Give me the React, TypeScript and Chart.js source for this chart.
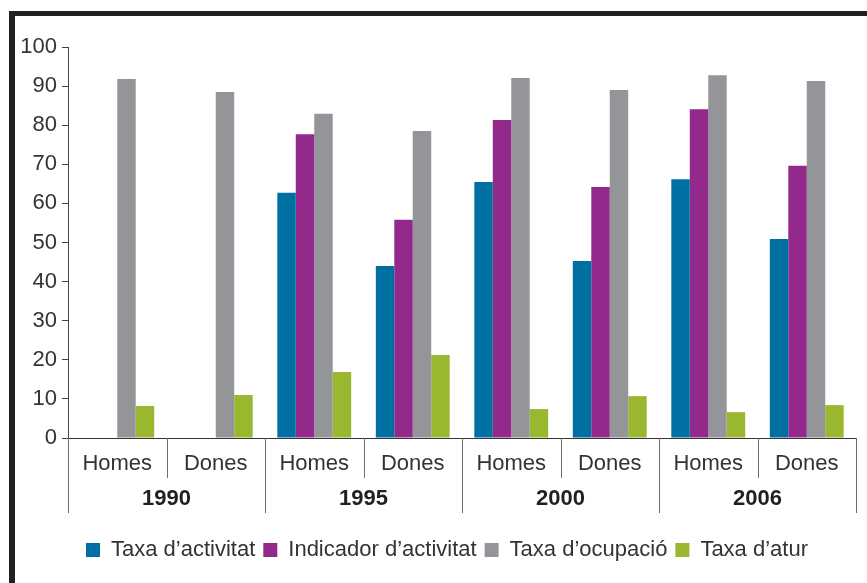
import React, { useEffect, useRef } from "react";
import { Chart, registerables } from "chart.js";

Chart.register(...registerables);

const categories = ["Homes", "Dones", "Homes", "Dones", "Homes", "Dones", "Homes", "Dones"];
const years = ["1990", "1995", "2000", "2006"];
const seriesNames = ["Taxa d’activitat", "Indicador d’activitat", "Taxa d’ocupació", "Taxa d’atur"];
const taxaActivitat = [null, null, 62.7, 44.0, 65.5, 45.3, 66.2, 50.9];
const indicadorActivitat = [null, null, 77.7, 55.8, 81.3, 64.2, 84.1, 69.6];
const taxaOcupacio = [91.8, 88.5, 82.9, 78.5, 92.1, 89.0, 92.8, 91.3];
const taxaAtur = [8.2, 11.0, 16.9, 21.2, 7.4, 10.7, 6.6, 8.4];
const colors = ["#0070a3", "#932a8b", "#949599", "#9ab730"];

const FONT = "'Liberation Sans', Arial, Helvetica, sans-serif";
const TEXT = "#333333";

const groupLabels = {
  id: "groupLabels",
  afterLayout(chart: any) {
    if (chart.legend) {
      chart.legend.left += 9;
      chart.legend.right += 9;
    }
  },
  afterDraw(chart: any) {
    const { ctx, chartArea, scales } = chart;
    const x = scales.x;
    const n = categories.length;
    const catW = (chartArea.right - chartArea.left) / n;
    const y0 = chartArea.bottom;
    ctx.save();
    ctx.strokeStyle = "#333";
    ctx.lineWidth = 1;
    ctx.beginPath();
    ctx.moveTo(chartArea.left, y0 + 0.5);
    ctx.lineTo(chartArea.right, y0 + 0.5);
    ctx.stroke();
    ctx.strokeStyle = "#6d6e71";
    for (let i = 0; i <= n; i++) {
      const px = Math.round(chartArea.left + i * catW) + 0.5;
      const outer = i % 2 === 0;
      ctx.beginPath();
      ctx.moveTo(px, y0);
      ctx.lineTo(px, y0 + (outer ? 75 : 40));
      ctx.stroke();
    }
    ctx.fillStyle = TEXT;
    ctx.textAlign = "center";
    ctx.textBaseline = "middle";
    ctx.font = `22px ${FONT}`;
    categories.forEach((c, i) => {
      ctx.fillText(c, x.getPixelForValue(i), y0 + 26);
    });
    ctx.font = `bold 22px ${FONT}`;
    ctx.fillStyle = "#231f20";
    years.forEach((yr, j) => {
      const cx = chartArea.left + (2 * j + 1) * catW;
      ctx.fillText(yr, cx, y0 + 61);
    });
    ctx.restore();
  },
};

export default function App() {
  const ref = useRef<HTMLCanvasElement>(null);
  useEffect(() => {
    const canvas = ref.current;
    if (!canvas) return;
    const datasets = [taxaActivitat, indicadorActivitat, taxaOcupacio, taxaAtur].map((d, i) => ({
      label: seriesNames[i],
      data: d,
      backgroundColor: colors[i],
      borderWidth: 0,
      categoryPercentage: 0.75,
      barPercentage: 1.0,
    }));
    const chart = new Chart(canvas, {
      type: "bar",
      data: { labels: categories, datasets },
      options: {
        animation: false,
        responsive: false,
        maintainAspectRatio: false,
        layout: { padding: { left: 20, right: 11, top: 47, bottom: 12 } },
        plugins: {
          legend: {
            position: "bottom",
            labels: {
              boxWidth: 14,
              boxHeight: 14,
              padding: 8,
              color: TEXT,
              font: { family: FONT, size: 22 },
            },
          },
          tooltip: { enabled: false },
        },
        scales: {
          x: {
            display: true,
            grid: { display: false, drawTicks: false },
            border: { display: false },
            ticks: { display: false },
            afterFit: (s: any) => {
              s.height = 93;
            },
          },
          y: {
            min: 0,
            max: 100,
            ticks: {
              stepSize: 10,
              padding: 5,
              color: TEXT,
              font: { family: FONT, size: 22 },
            },
            grid: { drawOnChartArea: false, drawTicks: true, tickLength: 6, color: "#444" },
            border: { display: true, color: "#444" },
            afterFit: (s: any) => {
              s.width = 48;
            },
          },
        },
      },
      plugins: [groupLabels],
    });
    return () => chart.destroy();
  }, []);

  return (
    <div style={{ position: "fixed", left: 0, top: 0, width: 867, height: 583, background: "#fff", overflow: "hidden" }}>
      <div
        style={{
          position: "absolute",
          left: 9,
          top: 11,
          width: 900,
          height: 620,
          borderTop: "5px solid #231f20",
          borderLeft: "6px solid #231f20",
          boxSizing: "border-box",
        }}
      />
      <canvas ref={ref} width={867} height={583} style={{ position: "absolute", left: 0, top: 0 }} />
    </div>
  );
}
